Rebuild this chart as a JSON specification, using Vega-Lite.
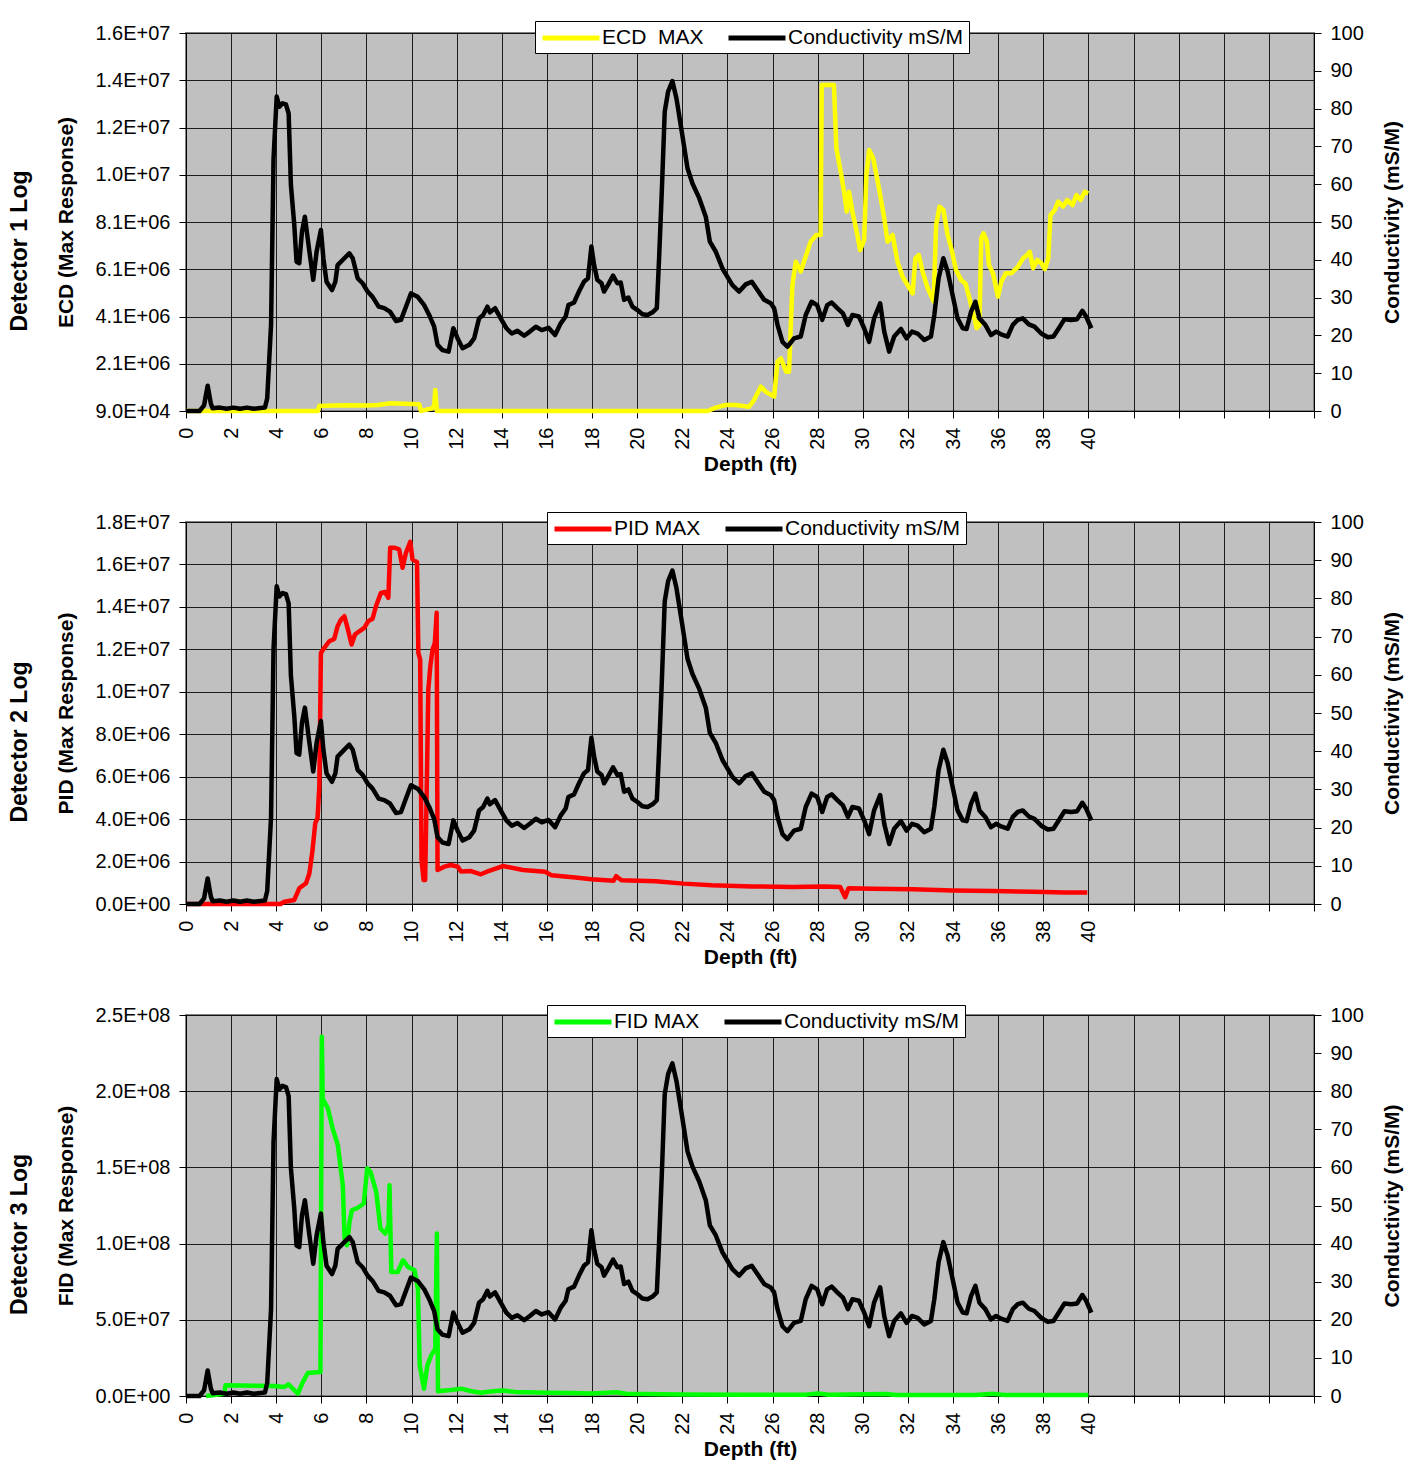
{
  "$schema": "https://vega.github.io/schema/vega-lite/v6.json",
  "background": "white",
  "padding": {"left": 7, "top": 19, "right": 5, "bottom": 5},
  "spacing": 34,
  "datasets": {
    "cond": [
      {"depth":0,"cond":0},{"depth":0.6,"cond":0},{"depth":0.8,"cond":1.5},{"depth":0.96,"cond":6.7},{"depth":1.1,"cond":2.0},{"depth":1.18,"cond":0.7},{"depth":1.5,"cond":0.9},{"depth":1.8,"cond":0.6},{"depth":2.1,"cond":0.9},{"depth":2.4,"cond":0.6},{"depth":2.7,"cond":0.9},{"depth":3.0,"cond":0.6},{"depth":3.3,"cond":0.8},{"depth":3.5,"cond":0.9},{"depth":3.6,"cond":3.4},{"depth":3.77,"cond":22.8},{"depth":3.88,"cond":66.8},{"depth":4.02,"cond":83.2},{"depth":4.14,"cond":80.5},{"depth":4.28,"cond":81.4},{"depth":4.43,"cond":81.1},{"depth":4.55,"cond":78.7},{"depth":4.65,"cond":59.8},{"depth":4.8,"cond":49.2},{"depth":4.9,"cond":39.5},{"depth":5.02,"cond":39.1},{"depth":5.14,"cond":47.4},{"depth":5.27,"cond":51.4},{"depth":5.47,"cond":42.2},{"depth":5.64,"cond":34.7},{"depth":5.79,"cond":42.2},{"depth":5.98,"cond":47.9},{"depth":6.09,"cond":40.4},{"depth":6.23,"cond":34.2},{"depth":6.47,"cond":32.0},{"depth":6.62,"cond":34.2},{"depth":6.72,"cond":38.6},{"depth":7.02,"cond":40.4},{"depth":7.24,"cond":41.7},{"depth":7.39,"cond":40.4},{"depth":7.61,"cond":35.1},{"depth":7.83,"cond":33.8},{"depth":8.05,"cond":31.6},{"depth":8.27,"cond":30.2},{"depth":8.54,"cond":27.6},{"depth":8.79,"cond":27.2},{"depth":9.04,"cond":26.3},{"depth":9.31,"cond":23.8},{"depth":9.53,"cond":24.1},{"depth":9.75,"cond":27.6},{"depth":9.97,"cond":31.1},{"depth":10.27,"cond":30.2},{"depth":10.56,"cond":28.0},{"depth":10.78,"cond":25.4},{"depth":11.0,"cond":22.3},{"depth":11.15,"cond":17.5},{"depth":11.37,"cond":16.1},{"depth":11.64,"cond":15.7},{"depth":11.85,"cond":21.9},{"depth":12.04,"cond":19.2},{"depth":12.26,"cond":16.6},{"depth":12.56,"cond":17.5},{"depth":12.77,"cond":19.2},{"depth":12.99,"cond":24.5},{"depth":13.17,"cond":25.4},{"depth":13.36,"cond":27.6},{"depth":13.47,"cond":26.1},{"depth":13.7,"cond":27.2},{"depth":13.95,"cond":24.5},{"depth":14.2,"cond":21.9},{"depth":14.44,"cond":20.5},{"depth":14.69,"cond":21.2},{"depth":14.99,"cond":19.9},{"depth":15.24,"cond":21.0},{"depth":15.51,"cond":22.3},{"depth":15.77,"cond":21.4},{"depth":16.07,"cond":22.0},{"depth":16.36,"cond":20.1},{"depth":16.61,"cond":23.2},{"depth":16.83,"cond":25.0},{"depth":16.95,"cond":28.0},{"depth":17.2,"cond":28.7},{"depth":17.42,"cond":31.6},{"depth":17.64,"cond":34.2},{"depth":17.82,"cond":35.1},{"depth":17.97,"cond":43.5},{"depth":18.09,"cond":38.6},{"depth":18.23,"cond":34.7},{"depth":18.42,"cond":33.8},{"depth":18.53,"cond":31.6},{"depth":18.72,"cond":33.5},{"depth":18.93,"cond":35.8},{"depth":19.12,"cond":33.8},{"depth":19.27,"cond":34.0},{"depth":19.42,"cond":29.4},{"depth":19.61,"cond":30.0},{"depth":19.79,"cond":27.6},{"depth":20.01,"cond":26.7},{"depth":20.23,"cond":25.6},{"depth":20.46,"cond":25.4},{"depth":20.68,"cond":26.1},{"depth":20.87,"cond":27.2},{"depth":20.97,"cond":40.4},{"depth":21.09,"cond":58.0},{"depth":21.22,"cond":79.2},{"depth":21.37,"cond":84.5},{"depth":21.56,"cond":87.3},{"depth":21.74,"cond":82.7},{"depth":22.0,"cond":73.0},{"depth":22.23,"cond":64.2},{"depth":22.45,"cond":60.2},{"depth":22.75,"cond":56.3},{"depth":23.04,"cond":51.4},{"depth":23.22,"cond":44.8},{"depth":23.48,"cond":42.2},{"depth":23.78,"cond":37.7},{"depth":24.0,"cond":35.5},{"depth":24.22,"cond":33.3},{"depth":24.52,"cond":31.6},{"depth":24.81,"cond":33.5},{"depth":25.08,"cond":34.2},{"depth":25.33,"cond":32.0},{"depth":25.63,"cond":29.4},{"depth":25.92,"cond":28.5},{"depth":26.07,"cond":27.2},{"depth":26.22,"cond":22.8},{"depth":26.44,"cond":18.3},{"depth":26.66,"cond":17.0},{"depth":26.95,"cond":19.2},{"depth":27.25,"cond":19.7},{"depth":27.47,"cond":25.4},{"depth":27.73,"cond":28.9},{"depth":27.98,"cond":28.0},{"depth":28.2,"cond":24.1},{"depth":28.42,"cond":28.0},{"depth":28.62,"cond":28.7},{"depth":28.87,"cond":27.2},{"depth":29.12,"cond":25.8},{"depth":29.34,"cond":22.8},{"depth":29.54,"cond":25.4},{"depth":29.83,"cond":25.0},{"depth":30.06,"cond":21.9},{"depth":30.28,"cond":18.3},{"depth":30.5,"cond":24.5},{"depth":30.77,"cond":28.5},{"depth":30.95,"cond":21.0},{"depth":31.17,"cond":15.7},{"depth":31.39,"cond":19.7},{"depth":31.69,"cond":21.7},{"depth":31.94,"cond":19.2},{"depth":32.18,"cond":21.0},{"depth":32.43,"cond":20.5},{"depth":32.72,"cond":18.8},{"depth":33.02,"cond":19.7},{"depth":33.17,"cond":25.4},{"depth":33.36,"cond":35.1},{"depth":33.57,"cond":40.4},{"depth":33.76,"cond":36.9},{"depth":33.98,"cond":30.7},{"depth":34.2,"cond":24.5},{"depth":34.43,"cond":21.9},{"depth":34.6,"cond":21.7},{"depth":34.8,"cond":26.3},{"depth":34.99,"cond":28.9},{"depth":35.17,"cond":24.5},{"depth":35.43,"cond":22.8},{"depth":35.68,"cond":20.1},{"depth":35.91,"cond":21.0},{"depth":36.13,"cond":20.3},{"depth":36.42,"cond":19.7},{"depth":36.65,"cond":22.8},{"depth":36.87,"cond":24.1},{"depth":37.09,"cond":24.5},{"depth":37.36,"cond":22.9},{"depth":37.61,"cond":22.3},{"depth":37.91,"cond":20.5},{"depth":38.2,"cond":19.5},{"depth":38.45,"cond":19.7},{"depth":38.69,"cond":21.9},{"depth":38.94,"cond":24.3},{"depth":39.24,"cond":24.1},{"depth":39.5,"cond":24.3},{"depth":39.73,"cond":26.5},{"depth":39.9,"cond":25.0},{"depth":40.13,"cond":21.9}
    ],
    "ecd": [
      {"depth":0,"value":90000},{"depth":5.85,"value":90000},{"depth":5.9,"value":301000},{"depth":6.5,"value":320000},{"depth":7.3,"value":330000},{"depth":8.0,"value":320000},{"depth":8.5,"value":340000},{"depth":9.08,"value":414000},{"depth":10.34,"value":372000},{"depth":10.41,"value":90000},{"depth":10.6,"value":130000},{"depth":10.9,"value":200000},{"depth":11.0,"value":300000},{"depth":11.05,"value":979000},{"depth":11.12,"value":90000},{"depth":23.12,"value":90000},{"depth":23.48,"value":230000},{"depth":23.92,"value":344000},{"depth":24.37,"value":344000},{"depth":24.96,"value":270000},{"depth":25.18,"value":556000},{"depth":25.48,"value":1120000},{"depth":25.7,"value":900000},{"depth":26.07,"value":697000},{"depth":26.22,"value":2180000},{"depth":26.37,"value":2320000},{"depth":26.5,"value":2000000},{"depth":26.6,"value":1755000},{"depth":26.73,"value":1755000},{"depth":26.88,"value":5420000},{"depth":27.03,"value":6410000},{"depth":27.25,"value":5990000},{"depth":27.44,"value":6550000},{"depth":27.69,"value":7260000},{"depth":27.94,"value":7540000},{"depth":28.13,"value":7540000},{"depth":28.18,"value":13890000},{"depth":28.72,"value":13890000},{"depth":28.83,"value":11210000},{"depth":29.02,"value":10220000},{"depth":29.17,"value":9370000},{"depth":29.29,"value":8530000},{"depth":29.39,"value":9370000},{"depth":29.54,"value":8530000},{"depth":29.76,"value":7540000},{"depth":29.88,"value":6900000},{"depth":30.06,"value":7330000},{"depth":30.16,"value":10080000},{"depth":30.28,"value":11140000},{"depth":30.46,"value":10790000},{"depth":30.72,"value":9510000},{"depth":30.95,"value":8250000},{"depth":31.1,"value":7260000},{"depth":31.32,"value":7540000},{"depth":31.54,"value":6410000},{"depth":31.76,"value":5780000},{"depth":31.99,"value":5420000},{"depth":32.21,"value":5070000},{"depth":32.33,"value":6550000},{"depth":32.48,"value":6690000},{"depth":32.65,"value":5990000},{"depth":32.88,"value":5280000},{"depth":33.14,"value":4720000},{"depth":33.25,"value":7960000},{"depth":33.4,"value":8740000},{"depth":33.57,"value":8600000},{"depth":33.76,"value":7540000},{"depth":33.96,"value":6830000},{"depth":34.13,"value":6060000},{"depth":34.36,"value":5630000},{"depth":34.55,"value":5490000},{"depth":34.73,"value":4860000},{"depth":34.87,"value":4290000},{"depth":35.05,"value":3590000},{"depth":35.17,"value":3730000},{"depth":35.25,"value":7400000},{"depth":35.35,"value":7610000},{"depth":35.5,"value":7260000},{"depth":35.59,"value":6270000},{"depth":35.77,"value":5920000},{"depth":35.99,"value":4930000},{"depth":36.14,"value":5560000},{"depth":36.34,"value":5920000},{"depth":36.59,"value":5920000},{"depth":36.88,"value":6200000},{"depth":37.1,"value":6550000},{"depth":37.28,"value":6690000},{"depth":37.4,"value":6830000},{"depth":37.55,"value":6130000},{"depth":37.73,"value":6480000},{"depth":37.92,"value":6340000},{"depth":38.07,"value":6100000},{"depth":38.22,"value":6550000},{"depth":38.32,"value":8390000},{"depth":38.51,"value":8600000},{"depth":38.66,"value":8950000},{"depth":38.88,"value":8740000},{"depth":39.06,"value":9020000},{"depth":39.3,"value":8810000},{"depth":39.47,"value":9230000},{"depth":39.65,"value":9020000},{"depth":39.84,"value":9370000},{"depth":39.99,"value":9300000}
    ],
    "pid": [
      {"depth":0,"value":0},{"depth":4.2,"value":0},{"depth":4.36,"value":110000},{"depth":4.8,"value":189000},{"depth":5.02,"value":740000},{"depth":5.32,"value":975000},{"depth":5.47,"value":1450000},{"depth":5.61,"value":2550000},{"depth":5.73,"value":3810000},{"depth":5.83,"value":4040000},{"depth":5.91,"value":5540000},{"depth":5.98,"value":11830000},{"depth":6.13,"value":12070000},{"depth":6.35,"value":12380000},{"depth":6.57,"value":12490000},{"depth":6.72,"value":13090000},{"depth":6.87,"value":13400000},{"depth":7.02,"value":13560000},{"depth":7.16,"value":13010000},{"depth":7.34,"value":12230000},{"depth":7.49,"value":12700000},{"depth":7.68,"value":12850000},{"depth":7.9,"value":13010000},{"depth":8.08,"value":13330000},{"depth":8.27,"value":13440000},{"depth":8.42,"value":14030000},{"depth":8.64,"value":14660000},{"depth":8.82,"value":14700000},{"depth":8.97,"value":14430000},{"depth":9.05,"value":16790000},{"depth":9.23,"value":16790000},{"depth":9.45,"value":16710000},{"depth":9.6,"value":15840000},{"depth":9.75,"value":16550000},{"depth":9.94,"value":17060000},{"depth":10.04,"value":16240000},{"depth":10.24,"value":16110000},{"depth":10.3,"value":11830000},{"depth":10.38,"value":11520000},{"depth":10.44,"value":2080000},{"depth":10.53,"value":1130000},{"depth":10.6,"value":1130000},{"depth":10.68,"value":6010000},{"depth":10.74,"value":10100000},{"depth":10.83,"value":11200000},{"depth":10.93,"value":11990000},{"depth":11.03,"value":12300000},{"depth":11.11,"value":13720000},{"depth":11.15,"value":1600000},{"depth":11.45,"value":1760000},{"depth":11.74,"value":1840000},{"depth":12.04,"value":1760000},{"depth":12.19,"value":1530000},{"depth":12.63,"value":1550000},{"depth":13.07,"value":1400000},{"depth":13.34,"value":1520000},{"depth":14.05,"value":1790000},{"depth":14.94,"value":1600000},{"depth":15.92,"value":1520000},{"depth":16.19,"value":1360000},{"depth":17.26,"value":1250000},{"depth":17.97,"value":1170000},{"depth":18.95,"value":1090000},{"depth":19.07,"value":1310000},{"depth":19.3,"value":1120000},{"depth":20.82,"value":1070000},{"depth":22.06,"value":960000},{"depth":23.31,"value":880000},{"depth":25.09,"value":830000},{"depth":26.87,"value":800000},{"depth":28.29,"value":830000},{"depth":29.0,"value":800000},{"depth":29.22,"value":320000},{"depth":29.36,"value":740000},{"depth":30.43,"value":720000},{"depth":32.21,"value":690000},{"depth":33.99,"value":640000},{"depth":35.77,"value":610000},{"depth":37.55,"value":580000},{"depth":38.97,"value":540000},{"depth":39.95,"value":540000}
    ],
    "fid": [
      {"depth":0.89,"value":0},{"depth":1.7,"value":1500000},{"depth":1.75,"value":7000000},{"depth":3.92,"value":6600000},{"depth":4.36,"value":5900000},{"depth":4.54,"value":7700000},{"depth":4.73,"value":4800000},{"depth":4.96,"value":1500000},{"depth":5.18,"value":9200000},{"depth":5.4,"value":15100000},{"depth":5.96,"value":15800000},{"depth":6.02,"value":235800000},{"depth":6.06,"value":195000000},{"depth":6.29,"value":188700000},{"depth":6.5,"value":175600000},{"depth":6.73,"value":164600000},{"depth":6.95,"value":138300000},{"depth":7.03,"value":103300000},{"depth":7.13,"value":98900000},{"depth":7.25,"value":114300000},{"depth":7.35,"value":121900000},{"depth":7.62,"value":123500000},{"depth":7.88,"value":126300000},{"depth":8.03,"value":149300000},{"depth":8.18,"value":147100000},{"depth":8.43,"value":134000000},{"depth":8.62,"value":109900000},{"depth":8.83,"value":106600000},{"depth":8.98,"value":112100000},{"depth":9.02,"value":138300000},{"depth":9.1,"value":81400000},{"depth":9.39,"value":81400000},{"depth":9.62,"value":89100000},{"depth":9.84,"value":84700000},{"depth":10.13,"value":82500000},{"depth":10.28,"value":70500000},{"depth":10.36,"value":20100000},{"depth":10.55,"value":4800000},{"depth":10.7,"value":20100000},{"depth":10.87,"value":26700000},{"depth":11.05,"value":31100000},{"depth":11.12,"value":106600000},{"depth":11.17,"value":3100000},{"depth":11.61,"value":3700000},{"depth":12.2,"value":4800000},{"depth":12.65,"value":3100000},{"depth":13.09,"value":2200000},{"depth":13.4,"value":2800000},{"depth":14.0,"value":3600000},{"depth":14.6,"value":2700000},{"depth":16,"value":2200000},{"depth":17,"value":2000000},{"depth":18,"value":1700000},{"depth":19.1,"value":2500000},{"depth":19.5,"value":1500000},{"depth":22,"value":1000000},{"depth":25,"value":800000},{"depth":27.5,"value":900000},{"depth":28,"value":1700000},{"depth":28.5,"value":800000},{"depth":31,"value":1300000},{"depth":31.5,"value":600000},{"depth":35,"value":700000},{"depth":35.8,"value":1400000},{"depth":36.3,"value":600000},{"depth":40,"value":600000}
    ]
  },
  "vconcat": [
    {
      "width": 1128,
      "height": 378,
      "title": {"text": "Detector 1 Log", "orient": "left", "anchor": "middle", "fontSize": 23, "fontWeight": "bold", "font": "Liberation Sans", "color": "#000", "offset": 24, "dx": -29},
      "layer": [
        {
          "data": {"name": "ecd"},
          "mark": {"type": "line", "strokeWidth": 4.5, "strokeJoin": "round"},
          "encoding": {
            "x": {"field": "depth", "type": "quantitative", "scale": {"domain": [0, 50], "nice": false}, "axis": {"title": "Depth (ft)", "values": [0,1,2,3,4,5,6,7,8,9,10,11,12,13,14,15,16,17,18,19,20,21,22,23,24,25,26,27,28,29,30,31,32,33,34,35,36,37,38,39,40,41,42,43,44,45,46,47,48,49,50], "labelExpr": "datum.value <= 40 && datum.value % 2 == 0 ? datum.label : ''", "labelAngle": -90, "grid": true, "titlePadding": 4}},
            "y": {"field": "value", "type": "quantitative", "scale": {"domain": [90000, 16090000], "nice": false, "zero": false}, "axis": {"orient": "left", "title": "ECD (Max Response)", "values": [90000, 2090000, 4090000, 6090000, 8090000, 10090000, 12090000, 14090000, 16090000], "labelExpr": "datum.value == 0 ? '0.0E+00' : format(datum.value / pow(10, floor(log(datum.value) / LN10 + 1e-9)), '.1f') + 'E+' + (floor(log(datum.value) / LN10 + 1e-9) < 10 ? '0' : '') + floor(log(datum.value) / LN10 + 1e-9)", "grid": true, "titlePadding": 18}},
            "color": {"datum": "ECD\u00a0 MAX", "type": "nominal", "scale": {"domain": ["ECD\u00a0 MAX", "Conductivity mS/M"], "range": ["#FFFF00", "#000000"]}, "legend": {"orient": "none", "legendX": 349, "legendY": -12, "direction": "horizontal", "title": null, "symbolType": "M-3,0H3", "symbolSize": 361, "symbolOffset": 19, "symbolStrokeWidth": 5, "labelOffset": 19, "labelFontSize": 21, "labelFont": "Liberation Sans", "labelColor": "#000", "strokeColor": "#000", "fillColor": "#fff", "padding": 5, "columnPadding": 14, "labelLimit": 400}}
          }
        },
        {
          "data": {"name": "cond"},
          "mark": {"type": "line", "strokeWidth": 4.5, "strokeJoin": "round"},
          "encoding": {
            "x": {"field": "depth", "type": "quantitative", "scale": {"domain": [0, 50], "nice": false}},
            "y": {"field": "cond", "type": "quantitative", "scale": {"domain": [0, 100], "nice": false}, "axis": {"orient": "right", "title": "Conductivity (mS/M)", "values": [0,10,20,30,40,50,60,70,80,90,100], "grid": false, "titleAngle": 270, "titleBaseline": "top", "titlePadding": 18}},
            "color": {"datum": "Conductivity mS/M", "type": "nominal"}
          }
        }
      ],
      "resolve": {"scale": {"y": "independent"}}
    },
    {
      "width": 1128,
      "height": 382,
      "title": {"text": "Detector 2 Log", "orient": "left", "anchor": "middle", "fontSize": 23, "fontWeight": "bold", "font": "Liberation Sans", "color": "#000", "offset": 24, "dx": -29},
      "layer": [
        {
          "data": {"name": "pid"},
          "mark": {"type": "line", "strokeWidth": 4.5, "strokeJoin": "round"},
          "encoding": {
            "x": {"field": "depth", "type": "quantitative", "scale": {"domain": [0, 50], "nice": false}, "axis": {"title": "Depth (ft)", "values": [0,1,2,3,4,5,6,7,8,9,10,11,12,13,14,15,16,17,18,19,20,21,22,23,24,25,26,27,28,29,30,31,32,33,34,35,36,37,38,39,40,41,42,43,44,45,46,47,48,49,50], "labelExpr": "datum.value <= 40 && datum.value % 2 == 0 ? datum.label : ''", "labelAngle": -90, "grid": true, "titlePadding": 4}},
            "y": {"field": "value", "type": "quantitative", "scale": {"domain": [0, 18000000], "nice": false}, "axis": {"orient": "left", "title": "PID (Max Response)", "values": [0, 2000000, 4000000, 6000000, 8000000, 10000000, 12000000, 14000000, 16000000, 18000000], "labelExpr": "datum.value == 0 ? '0.0E+00' : format(datum.value / pow(10, floor(log(datum.value) / LN10 + 1e-9)), '.1f') + 'E+' + (floor(log(datum.value) / LN10 + 1e-9) < 10 ? '0' : '') + floor(log(datum.value) / LN10 + 1e-9)", "grid": true, "titlePadding": 18}},
            "color": {"datum": "PID MAX", "type": "nominal", "scale": {"domain": ["PID MAX", "Conductivity mS/M"], "range": ["#FF0000", "#000000"]}, "legend": {"orient": "none", "legendX": 361, "legendY": -10, "direction": "horizontal", "title": null, "symbolType": "M-3,0H3", "symbolSize": 361, "symbolOffset": 19, "symbolStrokeWidth": 5, "labelOffset": 19, "labelFontSize": 21, "labelFont": "Liberation Sans", "labelColor": "#000", "strokeColor": "#000", "fillColor": "#fff", "padding": 5, "columnPadding": 14, "labelLimit": 400}}
          }
        },
        {
          "data": {"name": "cond"},
          "mark": {"type": "line", "strokeWidth": 4.5, "strokeJoin": "round"},
          "encoding": {
            "x": {"field": "depth", "type": "quantitative", "scale": {"domain": [0, 50], "nice": false}},
            "y": {"field": "cond", "type": "quantitative", "scale": {"domain": [0, 100], "nice": false}, "axis": {"orient": "right", "title": "Conductivity (mS/M)", "values": [0,10,20,30,40,50,60,70,80,90,100], "grid": false, "titleAngle": 270, "titleBaseline": "top", "titlePadding": 18}},
            "color": {"datum": "Conductivity mS/M", "type": "nominal"}
          }
        }
      ],
      "resolve": {"scale": {"y": "independent"}}
    },
    {
      "width": 1128,
      "height": 381,
      "title": {"text": "Detector 3 Log", "orient": "left", "anchor": "middle", "fontSize": 23, "fontWeight": "bold", "font": "Liberation Sans", "color": "#000", "offset": 24, "dx": -29},
      "layer": [
        {
          "data": {"name": "fid"},
          "mark": {"type": "line", "strokeWidth": 4.5, "strokeJoin": "round"},
          "encoding": {
            "x": {"field": "depth", "type": "quantitative", "scale": {"domain": [0, 50], "nice": false}, "axis": {"title": "Depth (ft)", "values": [0,1,2,3,4,5,6,7,8,9,10,11,12,13,14,15,16,17,18,19,20,21,22,23,24,25,26,27,28,29,30,31,32,33,34,35,36,37,38,39,40,41,42,43,44,45,46,47,48,49,50], "labelExpr": "datum.value <= 40 && datum.value % 2 == 0 ? datum.label : ''", "labelAngle": -90, "grid": true, "titlePadding": 4}},
            "y": {"field": "value", "type": "quantitative", "scale": {"domain": [0, 250000000], "nice": false}, "axis": {"orient": "left", "title": "FID (Max Response)", "values": [0, 50000000, 100000000, 150000000, 200000000, 250000000], "labelExpr": "datum.value == 0 ? '0.0E+00' : format(datum.value / pow(10, floor(log(datum.value) / LN10 + 1e-9)), '.1f') + 'E+' + (floor(log(datum.value) / LN10 + 1e-9) < 10 ? '0' : '') + floor(log(datum.value) / LN10 + 1e-9)", "grid": true, "titlePadding": 18}},
            "color": {"datum": "FID MAX", "type": "nominal", "scale": {"domain": ["FID MAX", "Conductivity mS/M"], "range": ["#00FF00", "#000000"]}, "legend": {"orient": "none", "legendX": 361, "legendY": -10, "direction": "horizontal", "title": null, "symbolType": "M-3,0H3", "symbolSize": 361, "symbolOffset": 19, "symbolStrokeWidth": 5, "labelOffset": 19, "labelFontSize": 21, "labelFont": "Liberation Sans", "labelColor": "#000", "strokeColor": "#000", "fillColor": "#fff", "padding": 5, "columnPadding": 14, "labelLimit": 400}}
          }
        },
        {
          "data": {"name": "cond"},
          "mark": {"type": "line", "strokeWidth": 4.5, "strokeJoin": "round"},
          "encoding": {
            "x": {"field": "depth", "type": "quantitative", "scale": {"domain": [0, 50], "nice": false}},
            "y": {"field": "cond", "type": "quantitative", "scale": {"domain": [0, 100], "nice": false}, "axis": {"orient": "right", "title": "Conductivity (mS/M)", "values": [0,10,20,30,40,50,60,70,80,90,100], "grid": false, "titleAngle": 270, "titleBaseline": "top", "titlePadding": 18}},
            "color": {"datum": "Conductivity mS/M", "type": "nominal"}
          }
        }
      ],
      "resolve": {"scale": {"y": "independent"}}
    }
  ],
  "resolve": {"scale": {"color": "independent"}, "legend": {"color": "independent"}},
  "config": {
    "view": {"fill": "#C0C0C0", "stroke": "#808080", "strokeWidth": 2},
    "axis": {"domainColor": "#000", "tickColor": "#000", "labelColor": "#000", "titleColor": "#000", "labelFont": "Liberation Sans", "titleFont": "Liberation Sans", "labelFontSize": 20, "titleFontSize": 21, "titleFontWeight": "bold", "gridColor": "#000", "gridOpacity": 0.85, "gridWidth": 1, "tickSize": 7, "labelPadding": 9, "labelFlush": false, "labelOverlap": false}
  }
}
